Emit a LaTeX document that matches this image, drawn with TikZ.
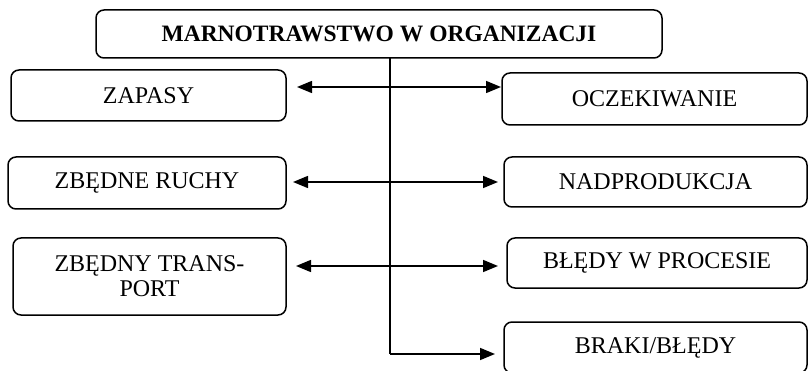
\documentclass[tikz,border=0pt]{standalone}
\usepackage{fontspec}
\setmainfont{Liberation Serif}
\usetikzlibrary{arrows.meta}
\begin{document}
\begin{tikzpicture}[x=1pt,y=-1pt,
  wbox/.style={draw=black,line width=1.5pt,rounded corners=8pt,inner sep=0pt,
    align=center,font=\fontsize{24}{25}\selectfont},
  conn/.style={line width=1.5pt},
  tip/.style={-{Triangle[length=15pt,width=12pt]}},
  dtip/.style={{Triangle[length=15pt,width=12pt]}-{Triangle[length=15pt,width=12pt]}}]
\useasboundingbox (0,0) rectangle (808,371);
\clip (0,0) rectangle (808,371);
\node[wbox,minimum width=566pt,minimum height=48pt,font=\fontsize{23.5}{25}\selectfont\bfseries] (top) at (379,34) {MARNOTRAWSTWO W ORGANIZACJI};
\node[wbox,minimum width=275pt,minimum height=51pt] (zap) at (148.5,95.5) {ZAPASY};
\node[wbox,minimum width=305pt,minimum height=52pt] (ocz) at (654.5,99) {OCZEKIWANIE};
\node[wbox,minimum width=278pt,minimum height=52pt] (ruchy) at (147,183) {ZBĘDNE RUCHY};
\node[wbox,minimum width=303pt,minimum height=50pt] (nadp) at (655.5,182) {NADPRODUKCJA};
\node[wbox,minimum width=273pt,minimum height=77pt] (trans) at (149.5,276.5) {ZBĘDNY TRANS-\\PORT};
\node[wbox,minimum width=300pt,minimum height=50pt] (bledy) at (657,263) {BŁĘDY W PROCESIE};
\node[wbox,minimum width=303pt,minimum height=51pt] (braki) at (655.5,347.5) {BRAKI/BŁĘDY};
% connector end points
\coordinate (v0) at (390,58);
\coordinate (v1) at (390,354);
\coordinate (a1l) at (297,87);
\coordinate (a1r) at (501,87);
\coordinate (a2l) at (293,182);
\coordinate (a2r) at (498,182);
\coordinate (a3l) at (296,266);
\coordinate (a3r) at (498,266);
\coordinate (a4r) at (495,354);
\draw[conn] (v0) -- (v1);
\draw[conn,tip] (v1) -- (a4r);
\draw[conn,dtip] (a1l) -- (a1r);
\draw[conn,dtip] (a2l) -- (a2r);
\draw[conn,dtip] (a3l) -- (a3r);
\end{tikzpicture}
\end{document}
